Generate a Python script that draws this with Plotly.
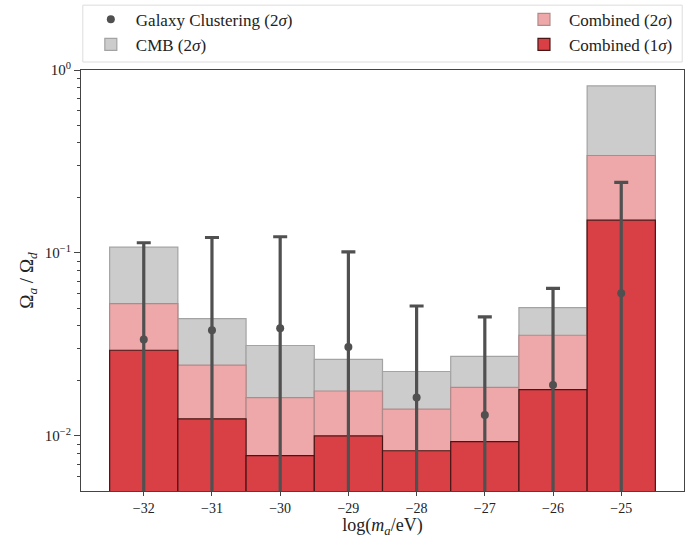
import plotly.graph_objects as go
import numpy as np

log_mass = [-32, -31, -30, -29, -28, -27, -26, -25]
cmb_2sigma = [0.1075, 0.0438, 0.0312, 0.0262, 0.0225, 0.0272, 0.0503, 0.818]
combined_2sigma = [0.0529, 0.0244, 0.0162, 0.0176, 0.0140, 0.0184, 0.0355, 0.341]
combined_1sigma = [0.0294, 0.0124, 0.0078, 0.0100, 0.0083, 0.0093, 0.0179, 0.151]
gc_central = [0.0336, 0.0378, 0.0388, 0.0306, 0.0162, 0.0130, 0.0190, 0.0602]
gc_upper = [0.1137, 0.1215, 0.1226, 0.1015, 0.0513, 0.0447, 0.0641, 0.243]
x_ticks = [-32, -31, -30, -29, -28, -27, -26, -25]
x_ticktext = ["−32", "−31", "−30", "−29", "−28", "−27", "−26", "−25"]
y_ticks = [0.01, 0.1, 1]
y_ticktext = ["10<sup>−2</sup>", "10<sup>−1</sup>", "10<sup>0</sup>"]

FONT = "Liberation Serif"

fig = go.Figure()
fig.add_trace(go.Bar(x=log_mass, y=cmb_2sigma, width=1, name="CMB (2<i>σ</i>)",
                     marker=dict(color="#cccccc", line=dict(color="#a3a3a3", width=1.2)),
                     legend="legend"))
fig.add_trace(go.Bar(x=log_mass, y=combined_2sigma, width=1, name="Combined (2<i>σ</i>)",
                     marker=dict(color="#eea8a9", line=dict(color="#b08a8a", width=1.2)),
                     legend="legend2"))
fig.add_trace(go.Bar(x=log_mass, y=combined_1sigma, width=1, name="Combined (1<i>σ</i>)",
                     marker=dict(color="#d94046", line=dict(color="#4a1515", width=1.2)),
                     legend="legend2"))
err_plus = [u - c for u, c in zip(gc_upper, gc_central)]
err_minus = [c - 1e-6 for c in gc_central]
fig.add_trace(go.Scatter(x=log_mass, y=gc_central, mode="markers",
                         name="Galaxy Clustering (2<i>σ</i>)",
                         marker=dict(color="#505050", size=8),
                         error_y=dict(type="data", symmetric=False, array=err_plus,
                                      arrayminus=err_minus, color="#505050",
                                      thickness=3.2, width=7),
                         legend="legend"))

fig.update_layout(
    width=695, height=538,
    margin=dict(l=81, r=11, t=70, b=47, autoexpand=False),
    barmode="overlay",
    plot_bgcolor="white", paper_bgcolor="white",
    font=dict(family=FONT, size=15, color="#222"),
    legend=dict(x=0.008, y=1.162, xanchor="left", yanchor="top",
                traceorder="reversed", bgcolor="rgba(0,0,0,0)",
                font=dict(size=17, family=FONT), itemwidth=40, tracegroupgap=0),
    legend2=dict(x=0.99, y=1.162, xanchor="right", yanchor="top",
                 traceorder="normal", bgcolor="rgba(0,0,0,0)",
                 font=dict(size=17, family=FONT), itemwidth=40, tracegroupgap=0),
    shapes=[dict(type="rect", xref="paper", yref="paper", x0=0.003, x1=0.997,
                 y0=1.019, y1=1.154, line=dict(color="#dddddd", width=1),
                 fillcolor="rgba(255,255,255,0)", layer="below")],
    xaxis=dict(range=[-32.92, -24.08], tickvals=x_ticks, ticktext=x_ticktext,
               ticks="outside", ticklen=4, tickcolor="#444", showgrid=False,
               zeroline=False, showline=True, mirror=True, linecolor="#444", linewidth=1.2,
               tickfont=dict(size=14), automargin=False,
               title=dict(text="log(<i>m<sub>a</sub></i>/eV)", font=dict(size=18), standoff=9)),
    yaxis=dict(type="log", range=[np.log10(0.005), 0], tickvals=y_ticks, ticktext=y_ticktext,
               ticks="outside", ticklen=6, tickcolor="#444", showgrid=False,
               zeroline=False, showline=True, mirror=True, linecolor="#444", linewidth=1.2,
               tickfont=dict(size=15), automargin=False,
               minor=dict(ticks="outside", ticklen=3, tickcolor="#444", showgrid=False,
                          tickvals=[0.006, 0.007, 0.008, 0.009,
                                    0.02, 0.03, 0.04, 0.05, 0.06, 0.07, 0.08, 0.09,
                                    0.2, 0.3, 0.4, 0.5, 0.6, 0.7, 0.8, 0.9]),
               title=dict(text="Ω<sub><i>a</i></sub> / Ω<sub><i>d</i></sub>", font=dict(size=19), standoff=6)),
)

fig.write_html("out.html", config={"displayModeBar": False},
               post_script="document.body.style.margin='0';document.body.style.overflow='hidden';")
